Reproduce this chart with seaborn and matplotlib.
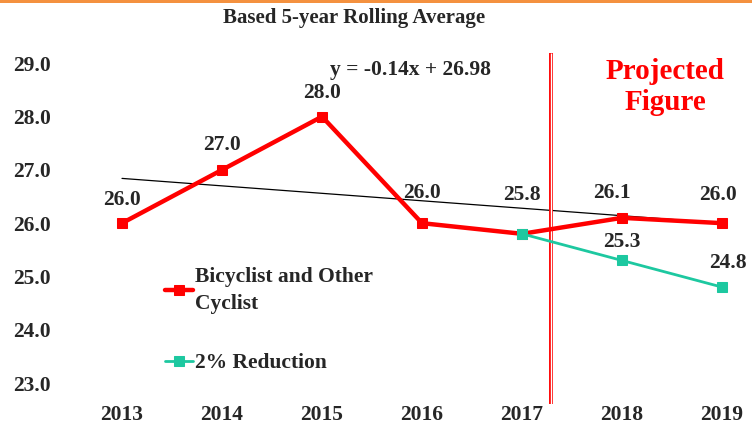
"""Bicyclist and other cyclist fatalities, 5-year rolling average with projection."""
import matplotlib
matplotlib.use('Agg')
import matplotlib.pyplot as plt
import numpy as np
import seaborn as sns
from matplotlib.patches import Rectangle

sns.set_style('white')
plt.rcParams['font.family'] = ['Liberation Serif', 'DejaVu Serif']
plt.rcParams['font.weight'] = 'bold'

years = [2013, 2014, 2015, 2016, 2017, 2018, 2019]
cyclist = [26.0, 27.0, 28.0, 26.0, 25.8, 26.1, 26.0]
red_years = [2017, 2018, 2019]
reduction = [25.8, 25.3, 24.8]
trend_slope = -0.14
trend_intercept = 26.98
y_ticks = [23.0, 24.0, 25.0, 26.0, 27.0, 28.0, 29.0]

RED = '#FF0000'
TEAL = '#1DC8A0'
FS = 15.5

fig = plt.figure(figsize=(7.52, 4.26), dpi=100)
ax = fig.add_axes([70 / 752, 27 / 426, 682 / 752, 357 / 426])

# linear trend across the whole series
xs = np.arange(1, len(years) + 1)
ax.plot(years, trend_intercept + trend_slope * xs, color='black', lw=0.9, zorder=2)

sns.lineplot(x=years, y=cyclist, ax=ax, color=RED, lw=3.2, marker='s',
             markersize=7.5, markeredgecolor=RED, label='Bicyclist and Other\nCyclist',
             zorder=4)
sns.lineplot(x=red_years, y=reduction, ax=ax, color=TEAL, lw=2, marker='s',
             markersize=6.5, markeredgecolor=TEAL, label='2% Reduction', zorder=5)

# data labels
red_off = [(0, 17), (0, 18), (0, 17), (0, 22), (0, 28), (-7, 18), (-3, 20)]
for x, y, off in zip(years, cyclist, red_off):
    ax.annotate(f'{y:.1f}', (x, y), xytext=off, textcoords='offset points',
                ha='center', va='center', fontsize=FS, fontweight='bold')
teal_off = [None, (0, 13), (4, 17)]
for x, y, off in zip(red_years, reduction, teal_off):
    if off is None:
        continue
    ax.annotate(f'{y:.1f}', (x, y), xytext=off, textcoords='offset points',
                ha='center', va='center', fontsize=FS, fontweight='bold')

# projection divider (double red line)
ax.plot([2017.29, 2017.29], [22.61, 29.19], color=RED, lw=2.8, clip_on=False,
        zorder=3, solid_capstyle='butt')
ax.plot([2017.29, 2017.29], [22.61, 29.19], color='white', lw=1.0, clip_on=False,
        zorder=3, solid_capstyle='butt')

ax.text(2018.43, 28.55, 'Projected\nFigure', color=RED, fontsize=21, fontweight='bold',
        ha='center', va='center', linespacing=1.2)
ax.text(2015.08, 28.88, 'y = -0.14x + 26.98', fontsize=FS, fontweight='bold',
        ha='left', va='center')

ax.set_xlim(2012.48, 2019.30)
ax.set_ylim(22.7, 29.4)
ax.set_xticks(years)
ax.set_xticklabels([str(y) for y in years])
ax.set_yticks(y_ticks)
ax.set_yticklabels([f'{v:.1f}' for v in y_ticks])
ax.tick_params(axis='y', labelsize=FS, pad=14, length=0)
ax.tick_params(axis='x', labelsize=FS, pad=4, length=0)
for s in ax.spines.values():
    s.set_visible(False)
ax.set_xlabel('')
ax.set_ylabel('')

fig.text(354 / 752, 1 - 18 / 426, 'Based 5-year Rolling Average', ha='center',
         va='center', fontsize=15, fontweight='bold')

leg = ax.legend(loc='upper left', bbox_to_anchor=(84 / 682, 1 - 214 / 357),
                frameon=False, fontsize=FS, handlelength=1.3, handletextpad=0.1,
                labelspacing=1.85, borderpad=0)
for t in leg.get_texts():
    t.set_linespacing(1.45)

# thin orange band at the top edge
fig.add_artist(Rectangle((0, 1 - 2.5 / 426), 1, 2.5 / 426, transform=fig.transFigure,
                         color='#F4913F', lw=0))

fig.savefig('out.png', dpi=100)
plt.close(fig)
